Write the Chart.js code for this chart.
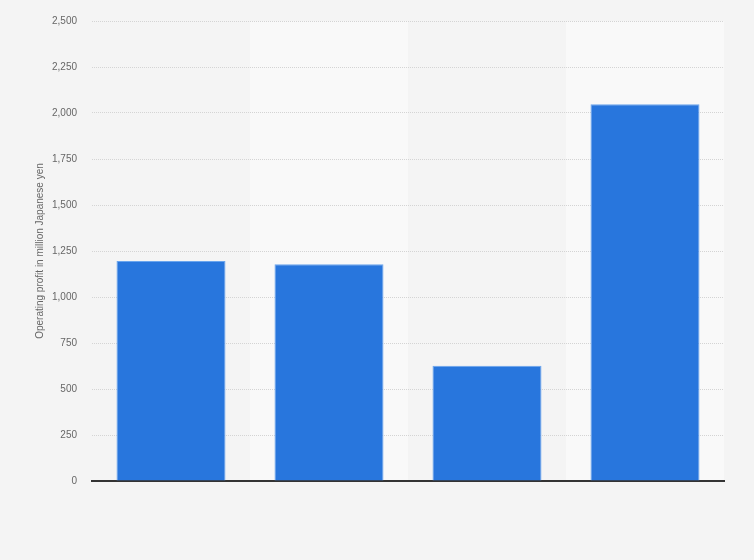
<!DOCTYPE html>
<html>
<head>
<meta charset="utf-8">
<script src="https://cdn.jsdelivr.net/npm/chart.js@4.4.1/dist/chart.umd.min.js"></script>
<style>
  html, body { margin: 0; padding: 0; background: #f4f4f4; }
  #wrap { width: 754px; height: 560px; position: relative; }
</style>
</head>
<body>
<div id="wrap"><canvas id="profitChart"></canvas></div>
<script>
const categories = ["", "", "", ""];
const profitValues = [1195, 1178, 627, 2047];
const yTicks = [0, 250, 500, 750, 1000, 1250, 1500, 1750, 2000, 2250, 2500];

// lighter band behind every second column, drawn under the grid
const columnBands = {
    id: 'columnBands',
    beforeDraw(chart) {
        const { ctx, chartArea, scales } = chart;
        const x = scales.x;
        const step = (chartArea.right - chartArea.left) / categories.length;
        ctx.save();
        ctx.fillStyle = '#f9f9f9';
        categories.forEach((c, i) => {
            if (i % 2 === 1) {
                const cx = x.getPixelForValue(i);
                ctx.fillRect(cx - step / 2, chartArea.top, step, chartArea.bottom - chartArea.top);
            }
        });
        ctx.restore();
    }
};

const ctx = document.getElementById('profitChart').getContext('2d');

const profitChart = new Chart(ctx, {
    type: 'bar',
    data: {
        labels: categories,
        datasets: [
            {
                label: "Operating profit",
                data: profitValues,
                backgroundColor: "#2876dd",
                borderColor: "#6aa5ee",
                borderWidth: 1,
                borderSkipped: 'bottom',
                categoryPercentage: 1,
                barPercentage: 0.69
            }
        ]
    },
    options: {
        responsive: true,
        maintainAspectRatio: false,
        animation: false,
        layout: { padding: { left: 34, right: 30, top: 20, bottom: 0 } },
        plugins: {
            legend: { display: false },
            tooltip: { enabled: false }
        },
        scales: {
            x: {
                grid: { display: false, drawTicks: false },
                border: { display: true, color: '#333333', width: 2 },
                ticks: { display: false },
                afterFit(scale) { scale.height = 79; }
            },
            y: {
                min: 0,
                max: 2500,
                afterBuildTicks(scale) { scale.ticks = yTicks.map(v => ({ value: v })); },
                grid: {
                    color: '#d4d4d4',
                    lineWidth: 1,
                    drawTicks: false
                },
                border: { display: false, dash: [1, 1] },
                ticks: {
                    padding: 15,
                    color: '#666666',
                    font: { family: 'Arial, "Liberation Sans", sans-serif', size: 10 },
                    callback: v => v.toLocaleString('en-US')
                },
                title: {
                    display: true,
                    text: 'Operating profit in million Japanese yen',
                    color: '#666666',
                    font: { family: 'Arial, "Liberation Sans", sans-serif', size: 10 },
                    padding: 0
                },
                afterFit(scale) { scale.width = 58; }
            }
        }
    },
    plugins: [columnBands]
});
</script>
</body>
</html>
